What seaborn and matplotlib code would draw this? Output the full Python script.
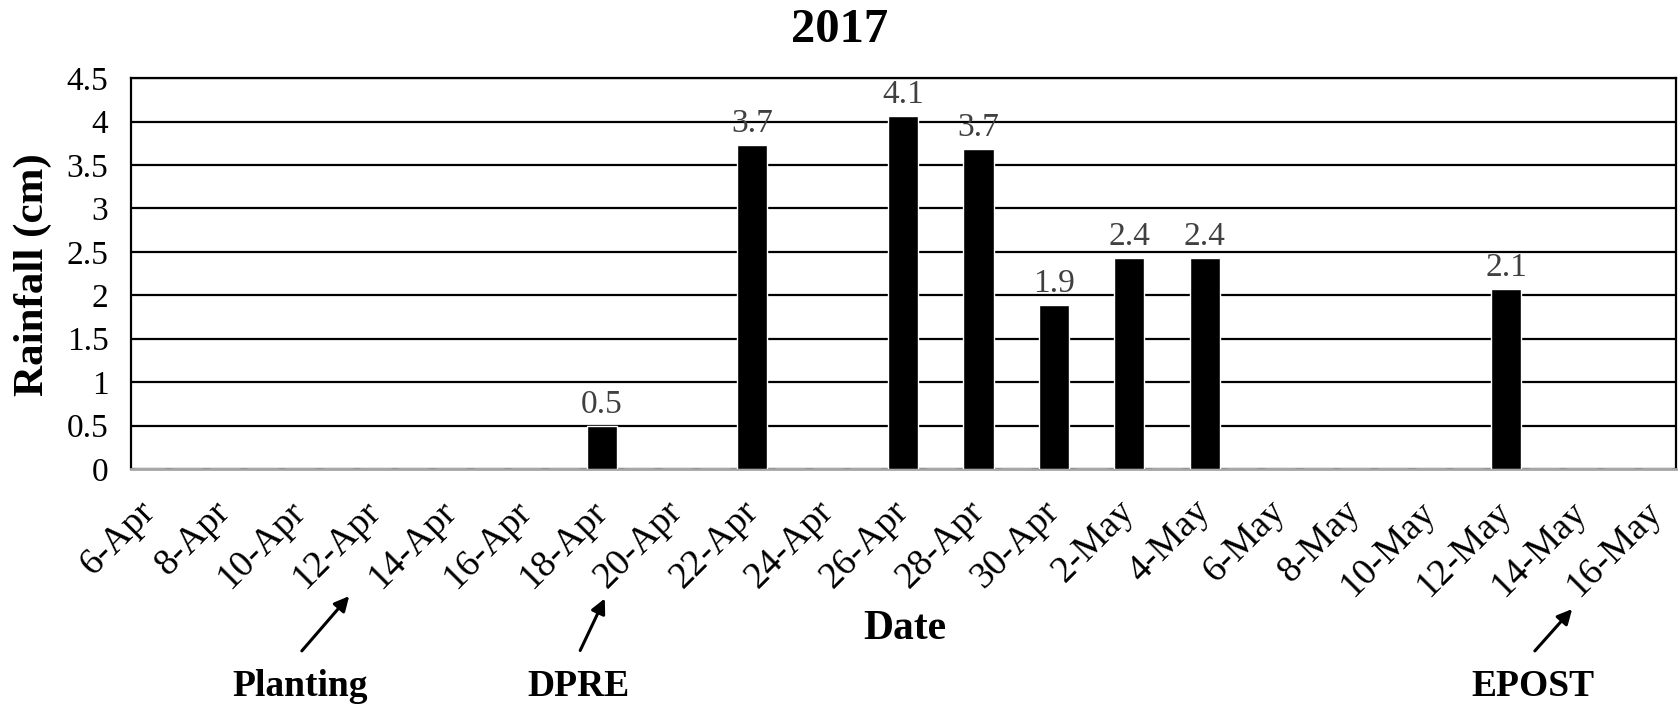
import matplotlib
matplotlib.use("Agg")
import matplotlib.pyplot as plt
import seaborn as sns
import pandas as pd
import numpy as np

# ---- data ----
start_date = "2017-04-06"
end_date = "2017-05-16"
rain_dates = ["2017-04-18", "2017-04-22", "2017-04-26", "2017-04-28",
              "2017-04-30", "2017-05-02", "2017-05-04", "2017-05-12"]
rain_cm = [0.49, 3.73, 4.06, 3.68, 1.89, 2.43, 2.43, 2.07]
y_ticks = [0, 0.5, 1, 1.5, 2, 2.5, 3, 3.5, 4, 4.5]
title = "2017"
events = ["Planting", "DPRE", "EPOST"]

# ---- build table ----
days = pd.date_range(start_date, end_date, freq="D")
series = pd.Series(0.0, index=days)
series[pd.to_datetime(rain_dates)] = rain_cm
df = pd.DataFrame({"label": [f"{d.day}-{d.strftime('%b')}" for d in days],
                   "rain": series.values})
order = list(df["label"])

sns.set_theme(style="white", rc={"text.color": "black", "xtick.color": "black",
                                 "ytick.color": "black", "axes.labelcolor": "black"})
plt.rcParams["font.family"] = ["Liberation Serif", "DejaVu Serif"]

fig = plt.figure(figsize=(16.79, 7.08), dpi=100)
ax = fig.add_axes([0.0778, 0.3376, 0.9202, 0.5519])

sns.barplot(data=df, x="label", y="rain", order=order, color="black",
            width=0.8, ax=ax, saturation=1, zorder=3)

ax.set_xlim(-0.5, len(order) - 0.5)
ax.set_ylim(0, 4.5)
ax.set_yticks(y_ticks)
ax.set_yticklabels([f"{t:g}" for t in y_ticks], fontsize=24)
ax.yaxis.grid(True, color="black", linewidth=1.6, zorder=0)
ax.xaxis.grid(False)
ax.set_axisbelow(True)

tick_pos = list(range(0, len(order), 2))
ax.set_xticks(tick_pos)
ax.set_xticklabels([order[i] for i in tick_pos], rotation=45, ha="right",
                   va="center", rotation_mode="anchor", fontsize=27)
ax.tick_params(axis="x", length=0, pad=27)
ax.tick_params(axis="y", length=0, pad=16)

for s in ["left", "top", "right"]:
    ax.spines[s].set_visible(True)
    ax.spines[s].set_color("black")
    ax.spines[s].set_linewidth(1.6)
ax.spines["bottom"].set_color("#a6a6a6")
ax.spines["bottom"].set_linewidth(2)

# value labels
for p, v in zip(ax.patches, df["rain"]):
    if v > 0:
        ax.text(p.get_x() + p.get_width() / 2, v + 0.07, f"{v:.1f}",
                ha="center", va="bottom", fontsize=24, color="#404040", zorder=4)

ax.set_xlabel("")
ax.set_ylabel("")

W, H = 1679, 708
def fx(x): return x / W
def fy(y): return 1 - y / H

fig.text(fx(33), fy(275), "Rainfall (cm)", rotation=90, ha="center", va="center",
         fontsize=31, fontweight="bold")
fig.text(fx(840), fy(30), title, ha="center", va="center", fontsize=35, fontweight="bold")
fig.text(fx(905), fy(629), "Date", ha="center", va="center", fontsize=30, fontweight="bold")

ann = [((300, 686), (300, 653), (351, 594)),
       ((579, 686), (579, 653), (606, 596)),
       ((1533, 686), (1533, 653), (1574, 607))]
for name, (tpos, a0, a1) in zip(events, ann):
    fig.text(fx(tpos[0]), fy(tpos[1]), name, ha="center", va="center",
             fontsize=27, fontweight="bold")
    fig.add_artist(matplotlib.patches.FancyArrowPatch(
        (fx(a0[0]), fy(a0[1])), (fx(a1[0]), fy(a1[1])),
        transform=fig.transFigure, arrowstyle="-|>", mutation_scale=22,
        color="black", linewidth=2.2))

fig.savefig("out.png", dpi=100)
